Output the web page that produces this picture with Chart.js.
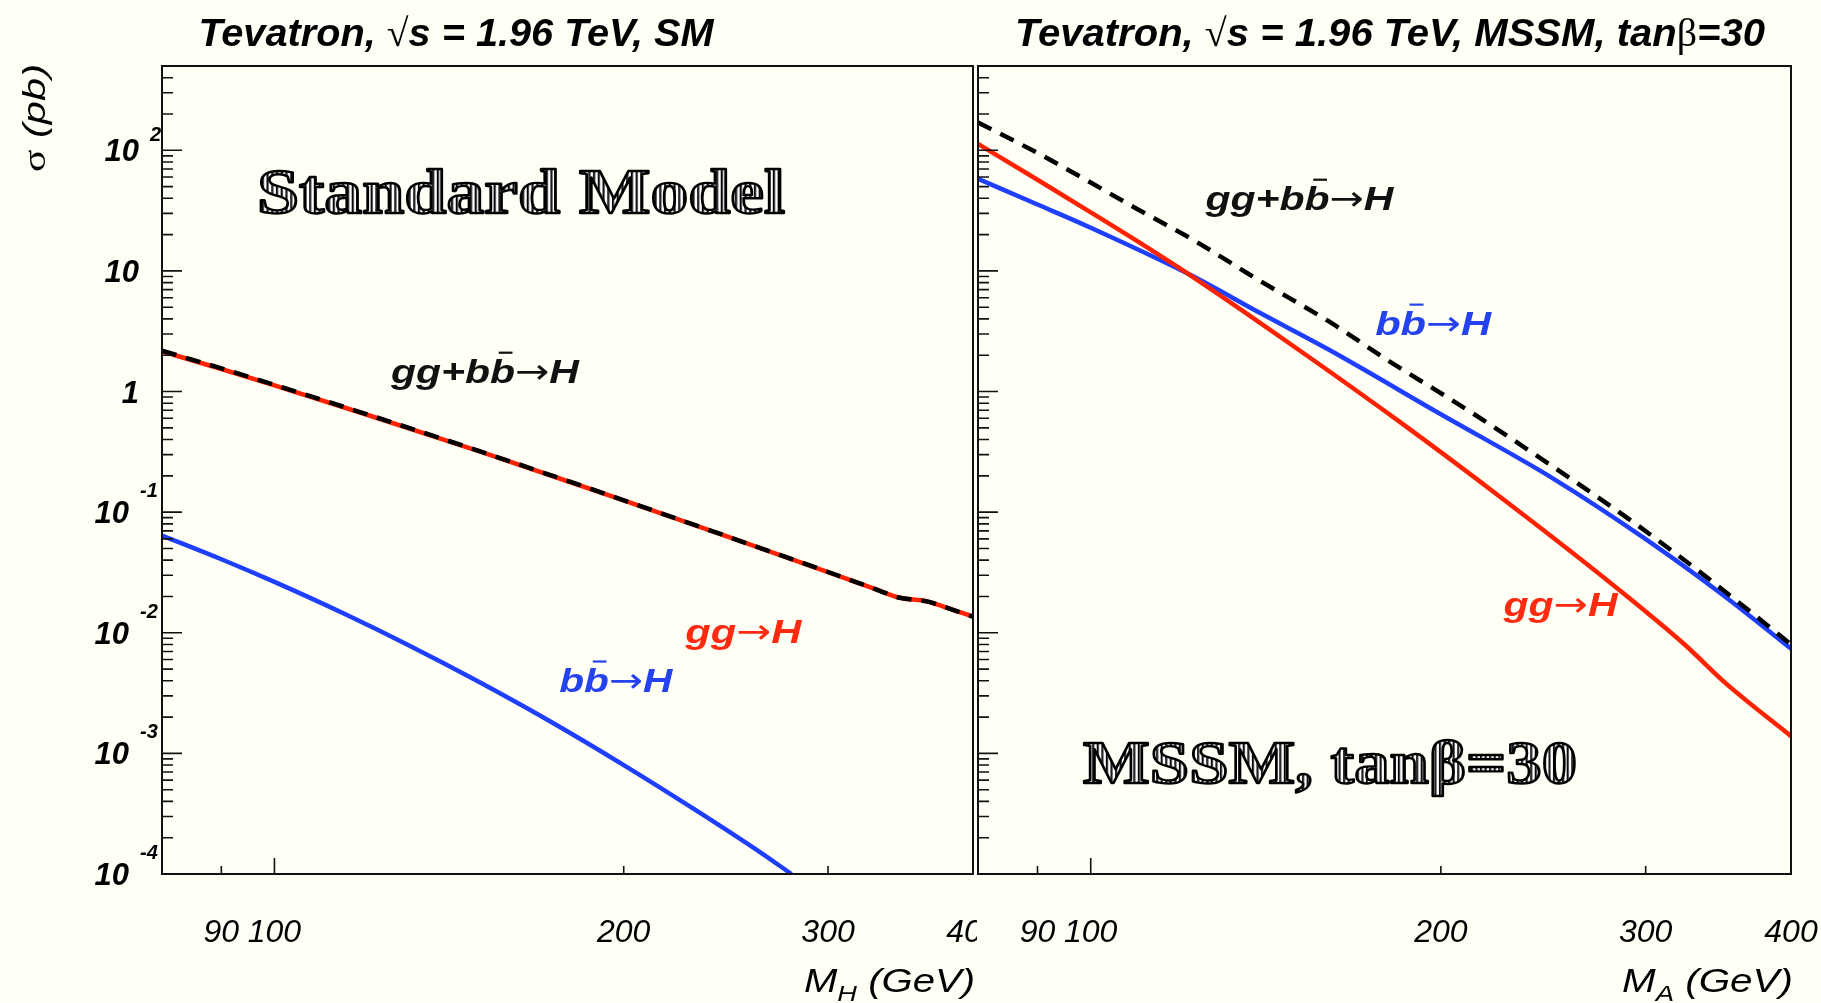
<!DOCTYPE html>
<html>
<head>
<meta charset="utf-8">
<script src="https://cdn.jsdelivr.net/npm/chart.js@4.4.1/dist/chart.umd.min.js"></script>
<style>
  html, body { margin: 0; padding: 0; background: #fffff6; }
  body { width: 1821px; height: 1003px; position: relative; overflow: hidden; }
  canvas { position: absolute; top: 0; }
  #smChart { left: 0; }
  #mssmChart { left: 977px; }
</style>
</head>
<body>
<canvas id="smChart" width="977" height="1003"></canvas>
<canvas id="mssmChart" width="844" height="1003"></canvas>
<script>
// --- SM, Tevatron sqrt(s) = 1.96 TeV (sigma in pb vs M_H in GeV) ---
const smMass   = [80, 90, 100, 120, 150, 180, 200, 250, 300, 330, 345, 365, 380, 400];
const smGG     = [2.15, 1.537, 1.126, 0.645, 0.320, 0.177, 0.125, 0.0591, 0.0318, 0.0229, 0.0196, 0.0182, 0.0161, 0.0136];
const smTotal  = [2.18, 1.555, 1.137, 0.650, 0.322, 0.178, 0.1255, 0.0593, 0.0319, 0.0229, 0.0196, 0.0182, 0.0161, 0.0136];
const smBBMass = [80, 90, 100, 115, 130, 150, 175, 200, 230, 260, 279];
const smBB     = [0.064, 0.0407, 0.0264, 0.0143, 0.00803, 0.00392, 0.00172, 0.00080, 0.000345, 0.00016, 0.0001];

// --- MSSM, tan(beta) = 30 (sigma in pb vs M_A in GeV) ---
const mssmGGMass  = [80, 90, 100, 110, 122, 149, 184, 227, 284, 324, 352, 400];
const mssmGG      = [113, 57, 30.6, 17.3, 9.1, 2.42, 0.568, 0.125, 0.0231, 0.0080, 0.00377, 0.00139];
const mssmBBMass  = [80, 90, 100, 122, 140, 160, 200, 250, 300, 350, 400];
const mssmBB      = [58, 35.5, 22.8, 9.2, 4.45, 2.24, 0.648, 0.189, 0.0598, 0.0204, 0.00738];
const mssmTotMass = [80, 90, 100, 110, 122, 140, 160, 180, 211, 249, 293, 346, 400];
const mssmTotal   = [170, 95, 54, 32, 18.5, 8.2, 3.85, 1.82, 0.70, 0.243, 0.082, 0.0245, 0.0080];

// axis ticks
const xTickVals   = [90, 100, 200, 300, 400];
const xMajorTicks = [100];
const yDecades    = [-4, -3, -2, -1, 0, 1, 2];

const RED = '#ff2200', BLUE = '#1f3fff', BLACK = '#000';

function pts(xs, ys) { return xs.map((x, i) => ({ x: x, y: ys[i] })); }

function fontFor(o, kind) {
  const s = (kind === 'sup' || kind === 'sub') ? o.size * 0.68 : o.size;
  if (kind === 'sym') return s + 'px "Liberation Serif", "DejaVu Serif", serif';
  if (kind === 'arr') return s + 'px "DejaVu Sans", sans-serif';
  return (o.style || '') + ' ' + (o.weight || '') + ' ' + s + 'px "Liberation Sans", Arial, sans-serif';
}

// text made of parts: ['txt', ''|'sup'|'sub'|'bar'|'sym'|'arr']
function drawRich(ctx, parts, x, y, o) {
  ctx.save();
  let w = 0;
  const ws = parts.map(p => { ctx.font = fontFor(o, p[1]); const m = ctx.measureText(p[0]).width; w += m; return m; });
  const sx = o.width ? o.width / w : 1;
  const x0 = o.align === 'right' ? x - w * sx : o.align === 'center' ? x - w * sx / 2 : x;
  ctx.translate(x0, y);
  ctx.scale(sx, 1);
  ctx.fillStyle = o.color || '#000';
  ctx.strokeStyle = o.color || '#000';
  ctx.textAlign = 'left';
  ctx.textBaseline = 'alphabetic';
  let cx = 0;
  parts.forEach((p, i) => {
    ctx.font = fontFor(o, p[1]);
    const dy = p[1] === 'sup' ? -o.size * 0.45 : p[1] === 'sub' ? o.size * 0.28 : 0;
    ctx.fillText(p[0], cx, dy);
    if (p[1] === 'bar') {
      ctx.lineWidth = o.size * 0.065;
      ctx.beginPath();
      ctx.moveTo(cx + ws[i] * 0.35, -o.size * 0.9);
      ctx.lineTo(cx + ws[i] * 0.9, -o.size * 0.9);
      ctx.stroke();
    }
    cx += ws[i];
  });
  ctx.restore();
}

// rotated version for the y title (reads bottom to top)
function drawRichRot(ctx, parts, x, y, o) {
  ctx.save();
  ctx.translate(x, y);
  ctx.rotate(-Math.PI / 2);
  drawRich(ctx, parts, 0, 0, o);
  ctx.restore();
}

function engraved(ctx, text, x, y, size, width) {
  const tile = document.createElement('canvas');
  tile.width = 4; tile.height = 4;
  const t = tile.getContext('2d');
  t.fillStyle = '#fff'; t.fillRect(0, 0, 4, 4);
  t.fillStyle = '#000'; t.fillRect(0, 0, 1.7, 4);
  ctx.save();
  ctx.font = 'bold ' + size + 'px "Liberation Serif", "DejaVu Serif", serif';
  ctx.textAlign = 'left';
  ctx.textBaseline = 'alphabetic';
  const sx = width / ctx.measureText(text).width;
  ctx.translate(x, y);
  ctx.scale(sx, 1);
  ctx.fillStyle = ctx.createPattern(tile, 'repeat');
  ctx.fillText(text, 0, 0);
  ctx.lineWidth = 2.4;
  ctx.lineJoin = 'round';
  ctx.strokeStyle = '#000';
  ctx.strokeText(text, 0, 0);
  ctx.restore();
}

function makeDecor(cfg) {
  return {
    id: 'decor_' + cfg.name,
    afterDatasetsDraw(chart) {
      const ctx = chart.ctx, a = chart.chartArea;
      const xs = chart.scales.x, ys = chart.scales.y;
      ctx.save();
      // frame
      ctx.strokeStyle = '#111';
      ctx.lineWidth = 2;
      ctx.strokeRect(a.left, a.top, a.right - a.left, a.bottom - a.top);
      // y ticks (inside, on the left)
      ctx.lineWidth = 1.6;
      ctx.beginPath();
      yDecades.forEach(e => {
        for (let m = 1; m <= 9; m++) {
          const v = m * Math.pow(10, e);
          if (v > ys.max * 1.0001) break;
          const py = ys.getPixelForValue(v);
          ctx.moveTo(a.left, py);
          ctx.lineTo(a.left + (m === 1 ? 20 : 11), py);
        }
      });
      // x ticks (inside, at the bottom)
      xTickVals.forEach(v => {
        if (v >= xs.max) return;
        const px = xs.getPixelForValue(v);
        ctx.moveTo(px, a.bottom);
        ctx.lineTo(px, a.bottom - (xMajorTicks.includes(v) ? 16 : 8));
      });
      ctx.stroke();
      ctx.restore();

      // y tick labels
      if (cfg.yLabels) {
        yDecades.forEach(e => {
          const py = ys.getPixelForValue(Math.pow(10, e));
          const base = e === 0 ? '1' : '10';
          const rx = e < 0 ? a.left - 33 : a.left - 23;
          drawRich(ctx, [[base, '']], rx, py + 11, { size: 31, weight: 'bold', style: 'italic', align: 'right' });
          if (e !== 0 && e !== 1) {
            drawRich(ctx, [[e < 0 ? '-' + (-e) : String(e), '']], rx + 11, py - (e < 0 ? 15 : 9),
              { size: 20, weight: 'bold', style: 'italic', align: 'left' });
          }
        });
      }
      // x tick labels
      xTickVals.forEach(v => {
        drawRich(ctx, [[String(v), '']], xs.getPixelForValue(v), a.bottom + 68,
          { size: 32, style: 'italic', align: 'center' });
      });
      // x title
      drawRich(ctx, [['M', ''], [cfg.xSub, 'sub'], [' (GeV)', '']], a.right + 2, a.bottom + 118,
        { size: 33, style: 'italic', align: 'right', width: 171 });
      // y title
      if (cfg.yTitle) {
        drawRichRot(ctx, [['σ', 'sym'], [' (pb)', '']], 45, a.top - 2,
          { size: 32, style: 'italic', align: 'right', width: 108 });
      }
      // panel title
      drawRich(ctx, cfg.title, cfg.titleX, 46,
        { size: 39, weight: 'bold', style: 'italic', align: 'center', width: cfg.titleW });
      // curve labels, anchored in data coordinates
      cfg.texts.forEach(t => {
        drawRich(ctx, t.parts, xs.getPixelForValue(t.x), ys.getPixelForValue(t.y),
          { size: 34, weight: 'bold', style: 'italic', color: t.color, width: t.width });
      });
      engraved(ctx, cfg.big.text, xs.getPixelForValue(cfg.big.x), ys.getPixelForValue(cfg.big.y),
        cfg.big.size, cfg.big.width);
    }
  };
}

function line(data, color, width, dash, order) {
  return {
    data: data, borderColor: color, borderWidth: width, borderDash: dash || [],
    pointRadius: 0, fill: false, cubicInterpolationMode: 'monotone', order: order
  };
}

function makeChart(id, datasets, padding, cfg) {
  return new Chart(document.getElementById(id), {
    type: 'line',
    data: { datasets: datasets },
    options: {
      responsive: false,
      animation: false,
      devicePixelRatio: 1,
      events: [],
      layout: { padding: padding },
      plugins: { legend: { display: false }, tooltip: { enabled: false } },
      scales: {
        x: { type: 'logarithmic', min: 80, max: 400, display: false },
        y: { type: 'logarithmic', min: 1e-4, max: 500, display: false }
      }
    },
    plugins: [makeDecor(cfg)]
  });
}

const bbH  = [['b', ''], ['b', 'bar'], ['→', 'arr'], ['H', '']];
const totH = [['gg+b', ''], ['b', 'bar'], ['→', 'arr'], ['H', '']];
const ggH  = [['gg', ''], ['→', 'arr'], ['H', '']];

makeChart('smChart', [
  line(pts(smMass, smTotal), BLACK, 4.5, [15, 10], 0),
  line(pts(smMass, smGG), RED, 4.5, null, 1),
  line(pts(smBBMass, smBB), BLUE, 4.5, null, 2)
], { left: 162, right: 4, top: 66, bottom: 129 }, {
  name: 'sm', yLabels: true, yTitle: true, xSub: 'H',
  title: [['Tevatron, ', ''], ['√', 'sym'], ['s = 1.96 TeV, SM', '']], titleX: 456, titleW: 515,
  texts: [
    { parts: totH, x: 126, y: 1.17, color: '#111', width: 188 },
    { parts: ggH, x: 226, y: 0.0082, color: '#ff2a10', width: 116 },
    { parts: bbH, x: 176, y: 0.00322, color: '#2442f0', width: 113 }
  ],
  big: { text: 'Standard Model', x: 96.6, y: 30, size: 64, width: 528 }
});

makeChart('mssmChart', [
  line(pts(mssmTotMass, mssmTotal), BLACK, 4.5, [15, 10], 0),
  line(pts(mssmGGMass, mssmGG), RED, 4.5, null, 1),
  line(pts(mssmBBMass, mssmBB), BLUE, 4.5, null, 2)
], { left: 1, right: 30, top: 66, bottom: 129 }, {
  name: 'mssm', yLabels: false, yTitle: false, xSub: 'A',
  title: [['Tevatron, ', ''], ['√', 'sym'], ['s = 1.96 TeV, MSSM, tan', ''], ['β', 'sym'], ['=30', '']],
  titleX: 413, titleW: 750,
  texts: [
    { parts: totH, x: 125.5, y: 31.8, color: '#111', width: 188 },
    { parts: bbH, x: 175.6, y: 2.93, color: '#2442f0', width: 116 },
    { parts: ggH, x: 226.4, y: 0.01374, color: '#ff2a10', width: 114 }
  ],
  big: { text: 'MSSM, tanβ=30', x: 98.5, y: 5.68e-4, size: 62, width: 494 }
});
</script>
</body>
</html>
